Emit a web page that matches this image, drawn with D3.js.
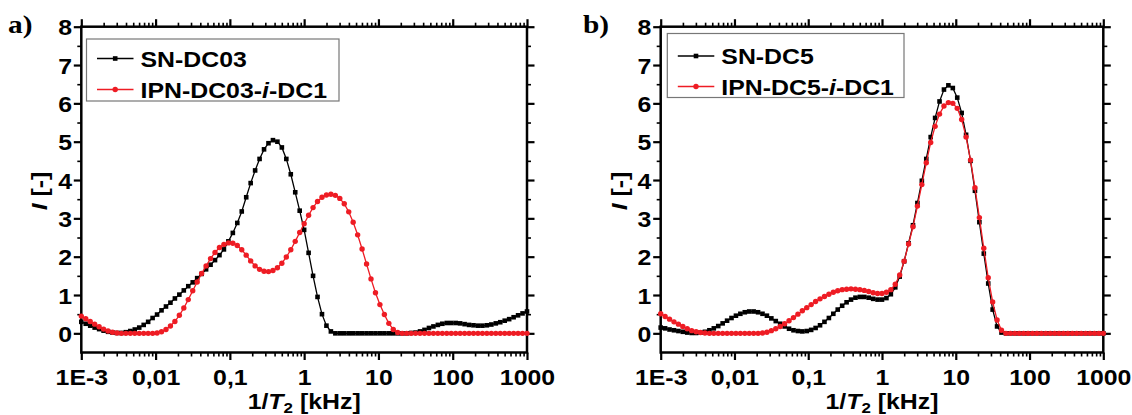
<!DOCTYPE html>
<html>
<head>
<meta charset="utf-8">
<script src="https://cdn.jsdelivr.net/npm/d3@7"></script>
<style>
  body { margin: 0; background: #fff; }
  svg text { font-family: "Liberation Sans", Arial, sans-serif; font-weight: bold; font-size: 22px; fill: #000; }
</style>
</head>
<body>
<svg id="chart" width="1132" height="415"></svg>
<script>
// log10 of 1/T2 [kHz] for every point of the distributions
const logT = [-3,-2.94,-2.88,-2.82,-2.76,-2.7,-2.64,-2.58,-2.52,-2.46,
  -2.4,-2.34,-2.28,-2.22,-2.16,-2.1,-2.04,-1.98,-1.92,-1.86,
  -1.8,-1.74,-1.68,-1.62,-1.56,-1.5,-1.44,-1.38,-1.32,-1.26,
  -1.2,-1.14,-1.08,-1.02,-0.96,-0.9,-0.84,-0.78,-0.72,-0.66,
  -0.6,-0.54,-0.48,-0.42,-0.36,-0.3,-0.24,-0.18,-0.12,-0.06,
  0,0.06,0.12,0.18,0.24,0.3,0.36,0.42,0.48,0.54,
  0.6,0.66,0.72,0.78,0.84,0.9,0.96,1.02,1.08,1.14,
  1.2,1.26,1.32,1.38,1.44,1.5,1.56,1.62,1.68,1.74,
  1.8,1.86,1.92,1.98,2.04,2.1,2.16,2.22,2.28,2.34,
  2.4,2.46,2.52,2.58,2.64,2.7,2.76,2.82,2.88,2.94,3];

// panel a
const snDC03 = [0.30,0.25,0.20,0.15,0.11,0.07,0.04,0.02,0.01,0.01,
  0.03,0.06,0.10,0.15,0.22,0.30,0.40,0.49,0.60,0.70,
  0.80,0.91,1.01,1.12,1.23,1.33,1.44,1.55,1.67,1.79,
  1.91,2.04,2.19,2.40,2.62,2.88,3.18,3.55,3.92,4.25,
  4.55,4.80,4.96,5.04,5.00,4.85,4.55,4.15,3.68,3.20,
  2.70,2.10,1.50,0.95,0.50,0.20,0.05,0,0,0,
  0,0,0,0,0,0,0,0,0,0,
  0,0,0,0,0.01,0.02,0.05,0.09,0.14,0.18,
  0.22,0.25,0.27,0.27,0.27,0.26,0.24,0.22,0.21,0.20,
  0.20,0.21,0.23,0.26,0.29,0.33,0.37,0.42,0.47,0.52,0.57];
const ipnDC03 = [0.45,0.38,0.31,0.24,0.17,0.11,0.06,0.03,0.01,0,
  0,0,0,0,0,0,0,0.01,0.04,0.10,
  0.19,0.31,0.47,0.66,0.88,1.11,1.34,1.56,1.76,1.95,
  2.11,2.24,2.32,2.36,2.35,2.29,2.18,2.04,1.89,1.76,
  1.67,1.62,1.61,1.64,1.71,1.83,1.99,2.18,2.40,2.63,
  2.86,3.08,3.28,3.44,3.55,3.61,3.63,3.60,3.52,3.38,
  3.17,2.90,2.57,2.20,1.81,1.42,1.06,0.75,0.49,0.26,
  0.10,0.02,0,0,0,0,0,0,0,0,
  0,0,0,0,0,0,0,0,0,0,
  0,0,0,0,0,0,0,0,0,0,0];

// panel b
const snDC5 = [0.15,0.13,0.10,0.08,0.06,0.04,0.02,0.01,0.01,0.02,
  0.04,0.08,0.13,0.19,0.26,0.33,0.40,0.46,0.51,0.55,
  0.57,0.57,0.55,0.51,0.46,0.39,0.32,0.25,0.18,0.12,
  0.08,0.06,0.05,0.06,0.09,0.14,0.21,0.30,0.40,0.51,
  0.62,0.72,0.81,0.88,0.93,0.95,0.95,0.93,0.90,0.88,
  0.88,0.92,1.02,1.20,1.48,1.88,2.35,2.82,3.40,3.98,
  4.55,5.12,5.62,6.05,6.36,6.47,6.40,6.15,5.75,5.18,
  4.50,3.72,2.90,2.08,1.30,0.62,0.18,0.02,0,0,
  0,0,0,0,0,0,0,0,0,0,
  0,0,0,0,0,0,0,0,0,0,0];
const ipnDC5 = [0.51,0.44,0.37,0.30,0.24,0.18,0.12,0.07,0.04,0.02,
  0.01,0,0,0,0,0,0,0,0,0,
  0,0,0,0.01,0.03,0.07,0.12,0.18,0.25,0.33,
  0.41,0.50,0.59,0.67,0.75,0.83,0.90,0.96,1.02,1.07,
  1.11,1.14,1.15,1.16,1.15,1.14,1.12,1.09,1.06,1.04,
  1.04,1.07,1.14,1.28,1.52,1.88,2.33,2.78,3.32,3.88,
  4.45,4.98,5.40,5.72,5.93,6.02,6.00,5.87,5.58,5.12,
  4.52,3.80,3.02,2.22,1.45,0.82,0.35,0.08,0,0,
  0,0,0,0,0,0,0,0,0,0,
  0,0,0,0,0,0,0,0,0,0,0];

const xTickValues = [1e-3, 1e-2, 1e-1, 1, 10, 100, 1000];
const xTickLabels = ['1E-3', '0,01', '0,1', '1', '10', '100', '1000'];
const yTickValues = [0, 1, 2, 3, 4, 5, 6, 7, 8];

const SX = 1.13 // the lettering of the reference is a little wide
const RED = '#ee1c24';
const svg = d3.select('#chart');

const panels = [
    {
        label: 'a)', labelX: 8, left: 81.3, right: 527,
        legend: { x: 86.5, y: 39, w: 252.5, h: 62, rows: [58.5, 89.5] },
        series: [
            { name: ['SN-DC03'], values: snDC03, color: '#000', shape: 'square' },
            { name: ['IPN-DC03-', 'i', '-DC1'], values: ipnDC03, color: RED, shape: 'circle' }
        ]
    },
    {
        label: 'b)', labelX: 583, left: 660.7, right: 1103.3,
        legend: { x: 667.3, y: 33.5, w: 236.7, h: 64, rows: [56, 86.5] },
        series: [
            { name: ['SN-DC5'], values: snDC5, color: '#000', shape: 'square' },
            { name: ['IPN-DC5-', 'i', '-DC1'], values: ipnDC5, color: RED, shape: 'circle' }
        ]
    }
];

function marker(sel, shape, color, cx, cy) {
    if (shape == 'square') {
        sel.append('rect').attr('x', cx - 2.3).attr('y', cy - 2.3)
            .attr('width', 4.6).attr('height', 4.6).attr('fill', color);
    } else {
        sel.append('circle').attr('cx', cx).attr('cy', cy).attr('r', 2.7).attr('fill', color);
    }
}

function drawPanel(p) {
    const x = d3.scaleLog().domain([1e-3, 1e3]).range([p.left, p.right]);
    const y = d3.scaleLinear().domain([-0.5, 8]).range([352.5, 26.7]);
    const g = svg.append('g');

    const minorX = x.ticks().filter(v => !xTickValues.some(t => Math.abs(v - t) / t < 1e-6));
    const minorY = d3.range(0.5, 8, 1);

    // ticks: minor and major generators on the same edge
    const addAxis = (make, tr, majors, minors, fmt) => {
        const gMin = g.append('g').attr('transform', tr)
            .call(make().tickValues(minors).tickSize(4).tickFormat(''));
        const gMaj = g.append('g').attr('transform', tr)
            .call(make().tickValues(majors).tickSize(7.5).tickFormat(fmt));
        gMin.select('.domain').remove();
        gMaj.select('.domain').remove();
        gMin.selectAll('line').attr('stroke-width', 1.6);
        gMaj.selectAll('line').attr('stroke-width', 2.2);
        gMin.attr('font-family', null).attr('font-size', null);
        gMaj.attr('font-family', null).attr('font-size', null);
        return gMaj;
    };

    const bottom = addAxis(() => d3.axisBottom(x), `translate(0,${y(-0.5)})`, xTickValues, minorX,
        d => xTickLabels[xTickValues.indexOf(d)]);
    bottom.selectAll('text')
        .attr('y', null).attr('dy', null)
        .attr('transform', `translate(0,${385 - y(-0.5)}) scale(${SX},1)`);

    addAxis(() => d3.axisTop(x), `translate(0,${y(8)})`, xTickValues, minorX, '');

    const left = addAxis(() => d3.axisLeft(y), `translate(${p.left},0)`, yTickValues, minorY, d3.format('d'));
    left.selectAll('text')
        .attr('x', null)
        .attr('transform', `translate(-9.3,1) scale(${SX},1)`);

    addAxis(() => d3.axisRight(y), `translate(${p.right},0)`, yTickValues, minorY, '');

    // frame
    g.append('rect')
        .attr('x', p.left).attr('y', y(8))
        .attr('width', p.right - p.left).attr('height', y(-0.5) - y(8))
        .attr('fill', 'none').attr('stroke', '#000').attr('stroke-width', 2.5);

    // series
    const line = d3.line().x(d => x(d[0])).y(d => y(d[1]));
    p.series.forEach(s => {
        const pts = logT.map((e, i) => [Math.pow(10, e), s.values[i]]);
        g.append('path').datum(pts)
            .attr('d', line)
            .attr('fill', 'none').attr('stroke', s.color).attr('stroke-width', 1.3);
        const m = g.append('g');
        pts.forEach(d => marker(m, s.shape, s.color, x(d[0]), y(d[1])));
    });

    // legend
    const L = p.legend;
    g.append('rect')
        .attr('x', L.x).attr('y', L.y).attr('width', L.w).attr('height', L.h)
        .attr('fill', '#fff').attr('stroke', '#777').attr('stroke-width', 1.2);
    p.series.forEach((s, i) => {
        const cy = L.rows[i];
        g.append('line')
            .attr('x1', L.x + 10.5).attr('x2', L.x + 47).attr('y1', cy).attr('y2', cy)
            .attr('stroke', s.color).attr('stroke-width', 1.5);
        marker(g, s.shape, s.color, L.x + 28.7, cy);
        const t = g.append('text')
            .attr('transform', `translate(${L.x + 54},${cy + 8}) scale(${SX},1)`);
        s.name.forEach((part, j) => {
            t.append('tspan').text(part).style('font-style', j == 1 ? 'italic' : 'normal');
        });
    });

    // axis titles
    const cx = (p.left + p.right) / 2;
    const xt = g.append('text')
        .attr('text-anchor', 'middle')
        .attr('transform', `translate(${cx},409) scale(${SX},1)`);
    xt.append('tspan').text('1/');
    xt.append('tspan').text('T').style('font-style', 'italic');
    xt.append('tspan').text('2').style('font-size', '15px').attr('dy', 3.5);
    xt.append('tspan').text(' [kHz]').attr('dy', -3.5);

    const yt = g.append('text')
        .attr('text-anchor', 'middle')
        .attr('transform', `translate(${p.left - 34},191) rotate(-90) scale(${SX},1)`);
    yt.append('tspan').text('I').style('font-style', 'italic');
    yt.append('tspan').text(' [-]');

    // panel letter
    g.append('text')
        .attr('transform', `translate(${p.labelX},33) scale(${SX},1)`)
        .style('font-family', '"Liberation Serif", "Times New Roman", serif')
        .style('font-size', '26px')
        .text(p.label);
}

panels.forEach(drawPanel);
</script>
</body>
</html>
